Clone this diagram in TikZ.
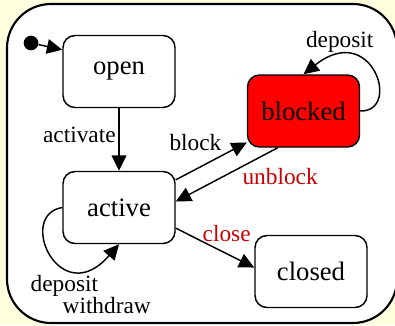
\documentclass[tikz,border=0pt]{standalone}
\usepackage{fontspec}
\setmainfont{Liberation Serif}
\usetikzlibrary{arrows.meta}
\definecolor{paleyellow}{RGB}{255,255,224}
\definecolor{labelred}{RGB}{204,0,0}
\begin{document}
\begin{tikzpicture}[x=0.75pt,y=-0.75pt,
  state/.style={draw, line width=1.1pt, rounded corners=9pt, minimum width=84pt,
    minimum height=54pt, inner sep=0pt, font=\fontsize{20}{24}\selectfont},
  trans/.style={line width=1.1pt, -{Triangle[length=11.5pt,width=11pt]}},
  lbl/.style={font=\fontsize{17.5}{16}\selectfont, inner sep=2pt}]
% background and outer frame
\fill[paleyellow] (0,0) rectangle (395,325);
\useasboundingbox (0,0) rectangle (395,325);
\draw[line width=1.6pt, fill=white, rounded corners=33pt] (7,4) rectangle (397,323);

% states
\node[circle, fill=black, inner sep=0pt, minimum size=11pt] (init) at (31,43) {};
\node[state] (open) at (119,71.5) {open};
\node[state, fill=red] (blocked) at (303.5,111) {blocked};
\node[state] (active) at (119,207.5) {active};
\node[state] (closed) at (311,271.5) {closed};

% transitions
\draw[trans] (init) -- (open.159);
\draw[trans] (open) -- node[lbl, left, pos=0.42] {activate} (active);
\draw[trans] (active.26) -- node[lbl, pos=0.69, anchor=south east] {block} (blocked.209);
\draw[trans] (blocked.235) -- node[lbl, pos=0.32, anchor=north west, xshift=-4.5pt, text=labelred] {unblock} (active.6);
\draw[trans] (active.-20) -- node[lbl, pos=0.3, anchor=south west, yshift=-4pt, text=labelred] {close} (closed.176);

% self loops
\draw[trans] (blocked.east) .. controls (402,112) and (372,20) .. node[lbl, pos=0.8, above, yshift=1pt] {deposit} (blocked.north);
\draw[trans] (active.west) .. controls (16,215) and (60,312) .. node[lbl, pos=0.75, below, align=left, xshift=9pt, yshift=-3pt] {deposit\\\hspace*{24pt}withdraw} (active.south);
\end{tikzpicture}
\end{document}
